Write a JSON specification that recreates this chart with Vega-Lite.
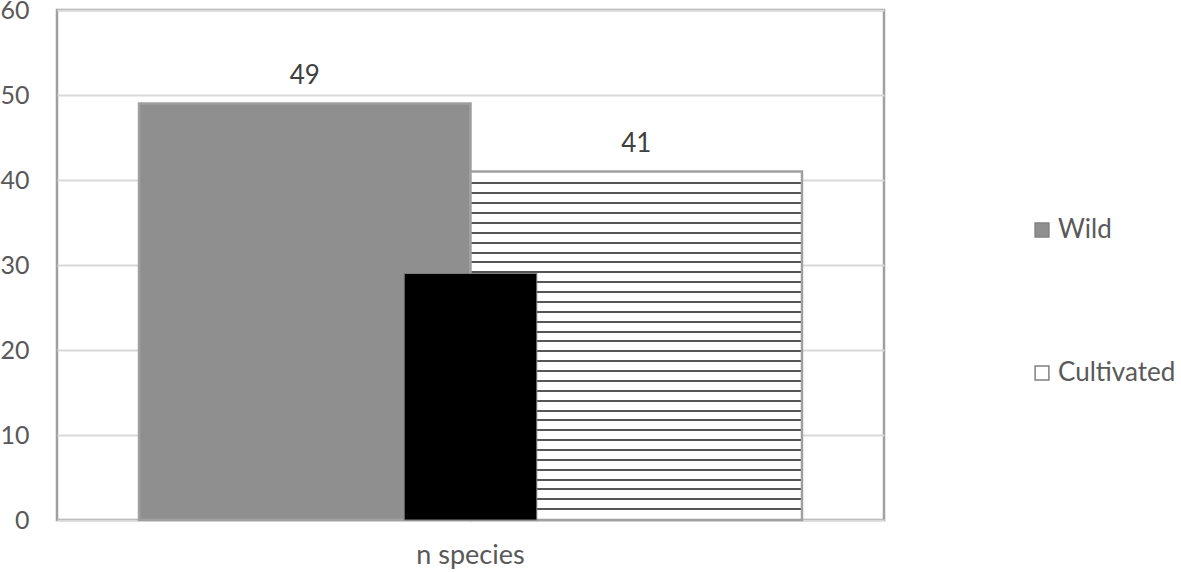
{
  "$schema": "https://vega.github.io/schema/vega-lite/v6.json",
  "width": 827,
  "height": 510,
  "autosize": {"type": "none"},
  "padding": {"left": 57, "top": 10, "right": 297, "bottom": 52},
  "background": "white",
  "config": {
    "font": "Lato",
    "view": {"stroke": "#a0a0a0", "strokeWidth": 2.5},
    "axis": {"labelFont": "Lato", "labelColor": "#595959", "ticks": false, "domain": false, "title": null}
  },
  "data": {
    "values": [
      {"category": "n species", "series": "Wild", "value": 49},
      {"category": "n species", "series": "Cultivated", "value": 41},
      {"category": "n species", "series": "Overlap", "value": 29}
    ]
  },
  "encoding": {
    "x": {
      "field": "category",
      "type": "nominal",
      "scale": {"paddingInner": 0, "paddingOuter": 0.1237},
      "axis": {"labelAngle": 0, "labelPadding": 22, "labelFontSize": 27, "grid": false}
    },
    "y": {
      "field": "value",
      "type": "quantitative",
      "scale": {"domain": [0, 60], "nice": false},
      "axis": {"values": [0, 10, 20, 30, 40, 50, 60], "grid": true, "gridColor": "#d9d9d9", "gridWidth": 2, "labelPadding": 28, "labelFontSize": 25}
    }
  },
  "layer": [
    {
      "transform": [{"filter": "datum.series !== 'Overlap'"}],
      "mark": {"type": "bar", "stroke": "#a0a0a0", "strokeWidth": 2.5},
      "encoding": {
        "xOffset": {"field": "series", "type": "nominal", "sort": ["Wild", "Cultivated"], "scale": {"paddingInner": 0, "paddingOuter": 0}},
        "fill": {
          "condition": {
            "test": "datum.series === 'Cultivated'",
            "value": {
              "gradient": "linear", "x1": 0, "y1": 0, "x2": 0, "y2": 1,
              "stops": [
                {"offset": 0, "color": "#ffffff"},
                {"offset": 0.03156, "color": "#ffffff"}, {"offset": 0.03156, "color": "#555555"}, {"offset": 0.03730, "color": "#555555"}, {"offset": 0.03730, "color": "#ffffff"},
                {"offset": 0.05989, "color": "#ffffff"}, {"offset": 0.05989, "color": "#555555"}, {"offset": 0.06562, "color": "#555555"}, {"offset": 0.06562, "color": "#ffffff"},
                {"offset": 0.08821, "color": "#ffffff"}, {"offset": 0.08821, "color": "#555555"}, {"offset": 0.09395, "color": "#555555"}, {"offset": 0.09395, "color": "#ffffff"},
                {"offset": 0.11653, "color": "#ffffff"}, {"offset": 0.11653, "color": "#555555"}, {"offset": 0.12227, "color": "#555555"}, {"offset": 0.12227, "color": "#ffffff"},
                {"offset": 0.14485, "color": "#ffffff"}, {"offset": 0.14485, "color": "#555555"}, {"offset": 0.15059, "color": "#555555"}, {"offset": 0.15059, "color": "#ffffff"},
                {"offset": 0.17317, "color": "#ffffff"}, {"offset": 0.17317, "color": "#555555"}, {"offset": 0.17891, "color": "#555555"}, {"offset": 0.17891, "color": "#ffffff"},
                {"offset": 0.20149, "color": "#ffffff"}, {"offset": 0.20149, "color": "#555555"}, {"offset": 0.20723, "color": "#555555"}, {"offset": 0.20723, "color": "#ffffff"},
                {"offset": 0.22982, "color": "#ffffff"}, {"offset": 0.22982, "color": "#555555"}, {"offset": 0.23555, "color": "#555555"}, {"offset": 0.23555, "color": "#ffffff"},
                {"offset": 0.25814, "color": "#ffffff"}, {"offset": 0.25814, "color": "#555555"}, {"offset": 0.26387, "color": "#555555"}, {"offset": 0.26387, "color": "#ffffff"},
                {"offset": 0.28646, "color": "#ffffff"}, {"offset": 0.28646, "color": "#555555"}, {"offset": 0.29220, "color": "#555555"}, {"offset": 0.29220, "color": "#ffffff"},
                {"offset": 0.31478, "color": "#ffffff"}, {"offset": 0.31478, "color": "#555555"}, {"offset": 0.32052, "color": "#555555"}, {"offset": 0.32052, "color": "#ffffff"},
                {"offset": 0.34310, "color": "#ffffff"}, {"offset": 0.34310, "color": "#555555"}, {"offset": 0.34884, "color": "#555555"}, {"offset": 0.34884, "color": "#ffffff"},
                {"offset": 0.37142, "color": "#ffffff"}, {"offset": 0.37142, "color": "#555555"}, {"offset": 0.37716, "color": "#555555"}, {"offset": 0.37716, "color": "#ffffff"},
                {"offset": 0.39974, "color": "#ffffff"}, {"offset": 0.39974, "color": "#555555"}, {"offset": 0.40548, "color": "#555555"}, {"offset": 0.40548, "color": "#ffffff"},
                {"offset": 0.42806, "color": "#ffffff"}, {"offset": 0.42806, "color": "#555555"}, {"offset": 0.43380, "color": "#555555"}, {"offset": 0.43380, "color": "#ffffff"},
                {"offset": 0.45638, "color": "#ffffff"}, {"offset": 0.45638, "color": "#555555"}, {"offset": 0.46212, "color": "#555555"}, {"offset": 0.46212, "color": "#ffffff"},
                {"offset": 0.48470, "color": "#ffffff"}, {"offset": 0.48470, "color": "#555555"}, {"offset": 0.49044, "color": "#555555"}, {"offset": 0.49044, "color": "#ffffff"},
                {"offset": 0.51303, "color": "#ffffff"}, {"offset": 0.51303, "color": "#555555"}, {"offset": 0.51876, "color": "#555555"}, {"offset": 0.51876, "color": "#ffffff"},
                {"offset": 0.54135, "color": "#ffffff"}, {"offset": 0.54135, "color": "#555555"}, {"offset": 0.54708, "color": "#555555"}, {"offset": 0.54708, "color": "#ffffff"},
                {"offset": 0.56967, "color": "#ffffff"}, {"offset": 0.56967, "color": "#555555"}, {"offset": 0.57541, "color": "#555555"}, {"offset": 0.57541, "color": "#ffffff"},
                {"offset": 0.59799, "color": "#ffffff"}, {"offset": 0.59799, "color": "#555555"}, {"offset": 0.60373, "color": "#555555"}, {"offset": 0.60373, "color": "#ffffff"},
                {"offset": 0.62631, "color": "#ffffff"}, {"offset": 0.62631, "color": "#555555"}, {"offset": 0.63205, "color": "#555555"}, {"offset": 0.63205, "color": "#ffffff"},
                {"offset": 0.65463, "color": "#ffffff"}, {"offset": 0.65463, "color": "#555555"}, {"offset": 0.66037, "color": "#555555"}, {"offset": 0.66037, "color": "#ffffff"},
                {"offset": 0.68296, "color": "#ffffff"}, {"offset": 0.68296, "color": "#555555"}, {"offset": 0.68870, "color": "#555555"}, {"offset": 0.68870, "color": "#ffffff"},
                {"offset": 0.71128, "color": "#ffffff"}, {"offset": 0.71128, "color": "#555555"}, {"offset": 0.71701, "color": "#555555"}, {"offset": 0.71701, "color": "#ffffff"},
                {"offset": 0.73960, "color": "#ffffff"}, {"offset": 0.73960, "color": "#555555"}, {"offset": 0.74534, "color": "#555555"}, {"offset": 0.74534, "color": "#ffffff"},
                {"offset": 0.76792, "color": "#ffffff"}, {"offset": 0.76792, "color": "#555555"}, {"offset": 0.77366, "color": "#555555"}, {"offset": 0.77366, "color": "#ffffff"},
                {"offset": 0.79624, "color": "#ffffff"}, {"offset": 0.79624, "color": "#555555"}, {"offset": 0.80198, "color": "#555555"}, {"offset": 0.80198, "color": "#ffffff"},
                {"offset": 0.82456, "color": "#ffffff"}, {"offset": 0.82456, "color": "#555555"}, {"offset": 0.83030, "color": "#555555"}, {"offset": 0.83030, "color": "#ffffff"},
                {"offset": 0.85289, "color": "#ffffff"}, {"offset": 0.85289, "color": "#555555"}, {"offset": 0.85862, "color": "#555555"}, {"offset": 0.85862, "color": "#ffffff"},
                {"offset": 0.88121, "color": "#ffffff"}, {"offset": 0.88121, "color": "#555555"}, {"offset": 0.88694, "color": "#555555"}, {"offset": 0.88694, "color": "#ffffff"},
                {"offset": 0.90953, "color": "#ffffff"}, {"offset": 0.90953, "color": "#555555"}, {"offset": 0.91527, "color": "#555555"}, {"offset": 0.91527, "color": "#ffffff"},
                {"offset": 0.93785, "color": "#ffffff"}, {"offset": 0.93785, "color": "#555555"}, {"offset": 0.94359, "color": "#555555"}, {"offset": 0.94359, "color": "#ffffff"},
                {"offset": 0.96617, "color": "#ffffff"}, {"offset": 0.96617, "color": "#555555"}, {"offset": 0.97191, "color": "#555555"}, {"offset": 0.97191, "color": "#ffffff"},
                {"offset": 1, "color": "#ffffff"}
              ]
            }
          },
          "field": "series",
          "type": "nominal",
          "scale": {"domain": ["Wild", "Cultivated"], "range": ["#8f8f8f", "#ffffff"]},
          "legend": {
            "title": null,
            "orient": "none",
            "legendX": 972,
            "legendY": 207,
            "symbolType": "square",
            "symbolSize": 190,
            "symbolStrokeColor": "#808080",
            "symbolStrokeWidth": 1.5,
            "labelFont": "Lato",
            "labelFontSize": 26,
            "labelColor": "#595959",
            "labelOffset": 3,
            "rowPadding": 117
          }
        }
      }
    },
    {
      "transform": [{"filter": "datum.series === 'Overlap'"}],
      "mark": {"type": "bar", "width": {"band": 0.2}, "fill": "#000000", "stroke": "#7f7f7f", "strokeWidth": 1}
    },
    {
      "transform": [{"filter": "datum.series !== 'Overlap'"}],
      "mark": {"type": "text", "baseline": "middle", "dy": -28, "fontSize": 26, "fill": "#404040", "font": "Lato"},
      "encoding": {
        "xOffset": {"field": "series", "type": "nominal", "sort": ["Wild", "Cultivated"], "scale": {"paddingInner": 0, "paddingOuter": 0}},
        "text": {"field": "value", "type": "quantitative"}
      }
    }
  ]
}
